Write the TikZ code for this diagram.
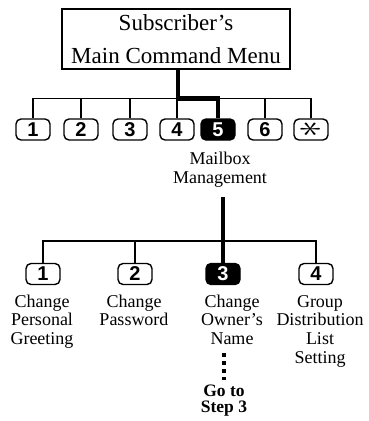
\documentclass[tikz,border=0pt]{standalone}
\usepackage{fontspec}
\setmainfont{Liberation Serif}
\newfontfamily\keyfont{Liberation Sans}
\begin{document}
\begin{tikzpicture}[x=1pt, y=-1pt,
		key/.style={draw, rounded corners=5pt, line width=1.4pt, minimum width=34pt, minimum height=21pt, inner sep=0pt, font=\keyfont\bfseries\fontsize{20}{20}\selectfont},
		keyon/.style={key, fill=black, text=white},
		lbl/.style={anchor=base, align=center, inner sep=0pt, font=\fontsize{18}{18.7}\selectfont},
		wire/.style={line width=1.1pt},
		heavy/.style={line width=4.5pt},
		dotline/.style={line width=3.6pt, dash pattern=on 4pt off 4pt}]
	\useasboundingbox (0, 0) rectangle (368, 421);
	\node[draw, line width=1.2pt, minimum width=228pt, minimum height=60pt, align=center, font=\fontsize{23}{33}\selectfont] (menu) at (176, 39) {Subscriber's\\Main Command Menu};
	\foreach \n/\x in {1/33, 2/81, 3/130, 4/177, 6/265}
		\node[key] (k\n) at (\x, 129.5) {\n};
	\node[keyon] (k5) at (218, 129.5) {5};
	\node[key] (kstar) at (311, 129.5) {\rotatebox{90}{\scalebox{1.6}[2.2]{$\ast$}}};
	\coordinate (bus) at (0, 98.5);
	\draw[wire] (k1.north) |- (bus -| kstar) -- (kstar.north);
	\foreach \n in {2, 3, 4, 6}
		\draw[wire] (k\n.north) -- (k\n.north |- bus);
	\draw[heavy] ([xshift=2pt]menu.south) |- (bus -| k5) -- (k5.north);
	\node[lbl, font=\fontsize{18}{19}\selectfont] (mbx) at (220, 183) {Mailbox\\Management};
	\foreach \n/\x in {1/43, 2/135, 4/316}
		\node[key] (s\n) at (\x, 274) {\n};
	\node[keyon] (s3) at (223, 274) {3};
	\coordinate (mgmt) at (223, 197);
	\draw[heavy] (mgmt) -- (s3.north);
	\coordinate (subbus) at (0, 241);
	\draw[wire] (s1.north) |- (subbus -| s4) -- (s4.north);
	\draw[wire] (s2.north) -- (s2.north |- subbus);
	% anchor=base sits on the last line
	\node[lbl] (l1) at (42, 344.4) {Change\\Personal\\Greeting};
	\node[lbl] (l2) at (134, 325.7) {Change\\Password};
	\node[lbl] (l3) at (232, 344.4) {Change\\Owner's\\Name};
	\node[lbl] (l4) at (320, 363.1) {Group\\Distribution\\List\\Setting};
	\node[lbl, font=\bfseries\fontsize{17.5}{16}\selectfont] (goto) at (224, 412) {Go to\\Step 3};
	\draw[dotline, shorten <=8pt, shorten >=4pt] (l3.south -| goto) -- (goto.north);
\end{tikzpicture}
\end{document}
